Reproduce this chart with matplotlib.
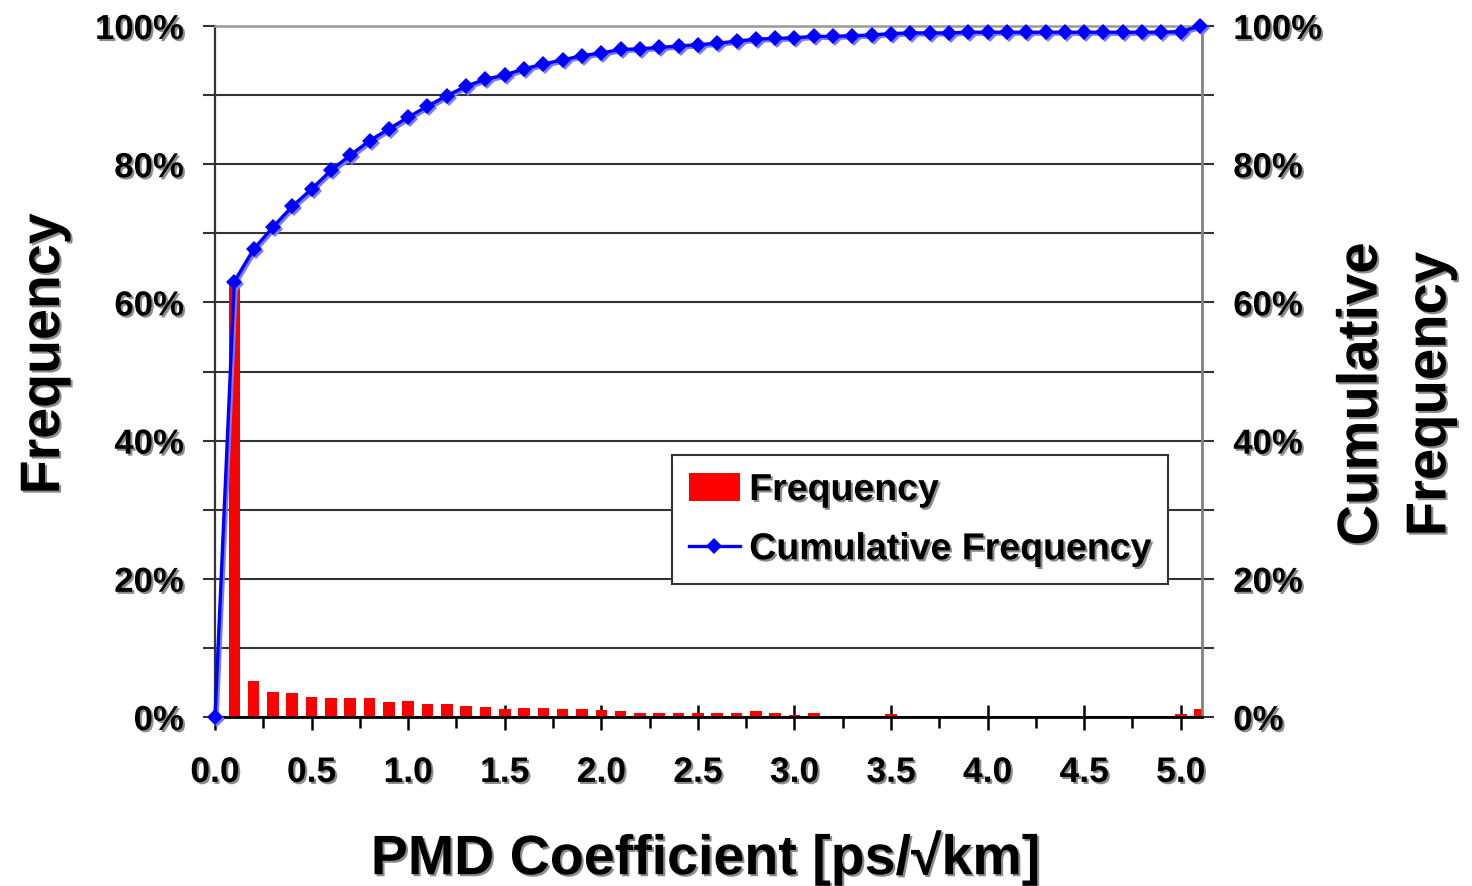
import numpy as np
import matplotlib
matplotlib.use("Agg")
import matplotlib.pyplot as plt
import matplotlib.patheffects as pe
import matplotlib.transforms as mtransforms
from matplotlib.ticker import MultipleLocator, FixedLocator

# ---------------- data ----------------
bin_edges = [round(0.1 * i, 1) for i in range(0, 52)]          # 0.0 ... 5.1
bar_bins = bin_edges[1:]                                          # 0.1 ... 5.1
frequency = [63.0, 5.2, 3.6, 3.5, 2.9, 2.7, 2.7, 2.7, 2.1, 2.3,
             1.85, 1.85, 1.6, 1.5, 1.2, 1.3, 1.3, 1.1, 1.1, 1.0,
             0.9, 0.6, 0.6, 0.6, 0.6, 0.6, 0.6, 0.9, 0.6, 0.3,
             0.6, 0.0, 0.0, 0.0, 0.4, 0.0, 0.0, 0.0, 0.0, 0.0,
             0.0, 0.0, 0.0, 0.0, 0.0, 0.0, 0.0, 0.0, 0.0, 0.4,
             1.1]
cumulative = [0.0, 63.0, 67.7, 70.9, 73.9, 76.4, 79.1, 81.3, 83.4, 85.1,
              86.8, 88.4, 89.9, 91.3, 92.3, 92.9, 93.8, 94.5, 95.1, 95.7,
              96.1, 96.6, 96.7, 96.9, 97.1, 97.3, 97.5, 97.8, 98.1, 98.2,
              98.3, 98.5, 98.5, 98.6, 98.7, 98.9, 99.0, 99.0, 99.0, 99.1,
              99.1, 99.1, 99.1, 99.1, 99.1, 99.1, 99.1, 99.1, 99.1, 99.1,
              99.2, 100.0]
y_ticks = [0, 20, 40, 60, 80, 100]
y_ticklabels = ["0%", "20%", "40%", "60%", "80%", "100%"]
x_ticks = [0.0, 0.5, 1.0, 1.5, 2.0, 2.5, 3.0, 3.5, 4.0, 4.5, 5.0]
x_ticklabels = ["0.0", "0.5", "1.0", "1.5", "2.0", "2.5", "3.0", "3.5", "4.0", "4.5", "5.0"]

FONT = ["Liberation Sans", "DejaVu Sans"]
plt.rcParams["font.family"] = FONT
plt.rcParams["font.weight"] = "bold"

shadow = [pe.withSimplePatchShadow(offset=(1.5, -1.5), shadow_rgbFace="#808080", alpha=0.9)]

fig = plt.figure(figsize=(14.72, 8.87), dpi=100)
ax = fig.add_axes([215 / 1472, 1 - 718 / 887, (1202 - 215) / 1472, (718 - 27) / 887])

# grid
ax.set_axisbelow(True)
ax.yaxis.grid(True, which="both", color="#333333", linewidth=1.5)
ax.xaxis.grid(False)

# bars
bars = ax.bar(bar_bins, frequency, width=0.06, color="#FF0000", edgecolor="none",
              zorder=2, label="Frequency")

# cumulative line (with light shadow copy)
shadow_tr = mtransforms.offset_copy(ax.transData, fig=fig, x=2, y=-2, units="dots")
ax.plot(bin_edges, cumulative, color="#7a7aff", linewidth=2.4, marker="D",
        markersize=8.5, markeredgewidth=0, transform=shadow_tr, zorder=3, clip_on=False)
line, = ax.plot(bin_edges, cumulative, color="#0000FF", linewidth=2.4, marker="D",
                markersize=8.5, markeredgewidth=0, zorder=4, clip_on=False,
                label="Cumulative Frequency")

ax.set_xlim(0, 5.11)
ax.set_ylim(0, 100)

# spines
ax.spines["left"].set_color("#333333")
ax.spines["left"].set_linewidth(1.6)
ax.spines["bottom"].set_color("#000000")
ax.spines["bottom"].set_linewidth(2.0)
ax.spines["top"].set_color("#999999")
ax.spines["top"].set_linewidth(1.8)
ax.spines["right"].set_color("#808080")
ax.spines["right"].set_linewidth(2.0)

# y ticks
ax.set_yticks(y_ticks)
ax.set_yticklabels(y_ticklabels)
ax.yaxis.set_minor_locator(MultipleLocator(10))
ax.tick_params(axis="y", which="both", direction="out", length=8.5, width=1.5,
               color="#333333", left=True, right=True, labelleft=True,
               labelright=True, pad=14, labelsize=25)

# x ticks
ax.set_xticks(x_ticks)
ax.set_xticklabels(x_ticklabels)
ax.xaxis.set_minor_locator(FixedLocator([0.25, 0.75, 1.25, 1.75, 2.25, 2.75,
                                         3.25, 3.75, 4.25, 4.75]))
ax.tick_params(axis="x", which="major", direction="inout", length=18, width=1.8,
               color="#000000", pad=19, labelsize=25.5)
ax.tick_params(axis="x", which="minor", direction="out", length=8, width=1.8,
               color="#000000")

for lab in ax.get_xticklabels():
    lab.set_fontweight("bold")
    lab.set_path_effects(shadow)
for t in ax.yaxis.get_major_ticks():
    t.label1.set_path_effects(shadow)
    t.label2.set_path_effects(shadow)
    t.label1.set_fontweight("bold")
    t.label2.set_fontweight("bold")

# axis labels
fig.text(45 / 1472, 1 - 355 / 887, "Frequency", rotation=90, ha="center", va="center",
         fontsize=40, fontweight="bold", path_effects=shadow)
fig.text(1397 / 1472, 1 - 395 / 887, "Cumulative\nFrequency", rotation=90, ha="center",
         va="center", fontsize=40.5, fontweight="bold", linespacing=1.42,
         multialignment="center", path_effects=shadow)
fig.text(705 / 1472, 1 - 859 / 887, "PMD Coefficient [ps/\u221akm]", ha="center",
         va="center", fontsize=40, fontweight="bold", path_effects=shadow)

# legend
leg = ax.legend([bars, line], ["Frequency", "Cumulative Frequency"],
                loc="upper left", bbox_to_anchor=(0.463, 0.379), borderaxespad=0,
                fontsize=27, frameon=True, fancybox=False, framealpha=1,
                edgecolor="#333333", handlelength=1.36, handleheight=0.78,
                handletextpad=0.25, labelspacing=0.62, borderpad=0.45)
leg.get_frame().set_linewidth(1.5)
leg.set_zorder(10)
for txt in leg.get_texts():
    txt.set_fontweight("bold")
    txt.set_path_effects(shadow)

fig.savefig("out.png", dpi=100)
